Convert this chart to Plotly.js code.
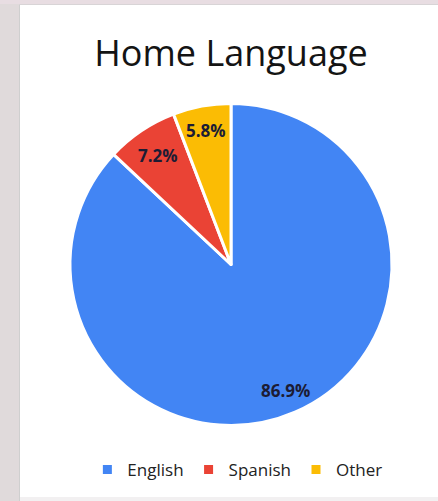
<!DOCTYPE html>
<html>
<head>
<meta charset="utf-8">
<script src="https://cdn.plot.ly/plotly-3.0.1.min.js"></script>
<style>
  html, body { margin: 0; padding: 0; width: 438px; height: 501px; background: #ffffff; overflow: hidden; }
  .strip { position: absolute; background: #e5dcdf; }
  #chart { position: absolute; left: 20px; top: 5px; width: 418px; height: 491px; }
</style>
</head>
<body>
<div class="strip" style="left:0;top:0;width:19px;height:501px;background:#e0dadb"></div>
<div class="strip" style="left:19px;top:0;width:1px;height:501px;background:#cfcfcf"></div>
<div class="strip" style="left:0;top:0;width:438px;height:4px;background:#e8dde2"></div>
<div class="strip" style="left:19px;top:4px;width:419px;height:1px;background:#d8d4d6"></div>
<div class="strip" style="left:20px;top:497px;width:418px;height:4px;background:#f2f0f1"></div>
<div id="chart"></div>
<script>
const categories = ["English", "Spanish", "Other"];
const shares = [86.9, 7.2, 5.8];
const sliceColors = ["#4285f4", "#ea4335", "#fbbc04"];

const W = 418, H = 491;
const pieDomain = { x: [50/W, 372/W], y: [70.5/H, 392.5/H] };

const trace = {
  type: "pie",
  labels: categories,
  values: shares,
  sort: false,
  direction: "clockwise",
  rotation: 0,
  marker: { colors: sliceColors, line: { color: "#ffffff", width: 3 } },
  textinfo: "none",
  hoverinfo: "none",
  domain: pieDomain
};

// Data labels placed at each slice's mid-angle, near the rim (as in the source chart)
const total = shares.reduce((a, b) => a + b, 0);
const cx = (pieDomain.x[0] + pieDomain.x[1]) / 2 * W;
const cy = (pieDomain.y[0] + pieDomain.y[1]) / 2 * H;
const R = Math.min((pieDomain.x[1] - pieDomain.x[0]) * W, (pieDomain.y[1] - pieDomain.y[0]) * H) / 2;
const labelRadius = [0.85, 0.815, 0.845];
let cum = 0;
const annotations = shares.map((v, i) => {
  const mid = (cum + v / 2) / total * 2 * Math.PI;
  cum += v;
  const px = cx + Math.sin(mid) * R * labelRadius[i];
  const py = cy + Math.cos(mid) * R * labelRadius[i];
  return {
    xref: "paper", yref: "paper",
    x: px / W, y: py / H, xanchor: "center", yanchor: "middle",
    text: "<b>" + v.toFixed(1) + "%</b>",
    showarrow: false,
    font: { family: "Open Sans, sans-serif", size: 17, color: "#1c1c34" }
  };
});

const layout = {
  width: W,
  height: H,
  margin: { l: 0, r: 0, t: 0, b: 0 },
  paper_bgcolor: "#ffffff",
  title: {
    text: "Home Language",
    font: { family: "Open Sans, sans-serif", size: 36, color: "#141414" },
    x: 211/W, xanchor: "center",
    y: 443/H, yanchor: "middle"
  },
  annotations: annotations,
  showlegend: true,
  legend: {
    orientation: "h",
    x: 0.52, xanchor: "center",
    y: 0.053, yanchor: "middle",
    font: { family: "Open Sans, sans-serif", size: 17, color: "#222222" },
    itemwidth: 30,
    traceorder: "normal"
  }
};

Plotly.newPlot("chart", [trace], layout, { displayModeBar: false, staticPlot: true });
</script>
</body>
</html>
